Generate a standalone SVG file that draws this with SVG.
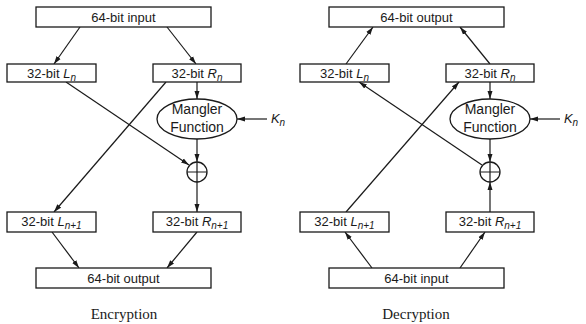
<svg xmlns="http://www.w3.org/2000/svg" width="586" height="324" viewBox="0 0 586 324">
<style>
.box{fill:#fff;stroke:#1a1a1a;stroke-width:1.3}
.ln{fill:none;stroke:#1a1a1a;stroke-width:1.2}
.t{font-family:"Liberation Sans",Arial,sans-serif;font-size:13px;fill:#1a1a1a;text-anchor:middle}
.m{font-size:14px}
.i{font-style:italic}
.cap{font-family:"Liberation Serif","Times New Roman",serif;font-size:15px;fill:#1a1a1a;text-anchor:middle}
</style>
<defs>
<marker id="ah" markerUnits="userSpaceOnUse" markerWidth="8" markerHeight="6" refX="8" refY="3" orient="auto">
<path d="M0,0.5 L8,3 L0,5.5 Z" fill="#1a1a1a"/>
</marker>
</defs>
<rect width="586" height="324" fill="#fff"/>
<g id="connectors">
<line class="ln" x1="80" y1="27" x2="54" y2="64" marker-end="url(#ah)"/>
<line class="ln" x1="167" y1="27" x2="196" y2="64" marker-end="url(#ah)"/>
<line class="ln" x1="197" y1="82" x2="197" y2="99" marker-end="url(#ah)"/>
<line class="ln" x1="267" y1="119" x2="237" y2="119" marker-end="url(#ah)"/>
<line class="ln" x1="197" y1="139" x2="197" y2="162" marker-end="url(#ah)"/>
<line class="ln" x1="66" y1="82" x2="189" y2="165" marker-end="url(#ah)"/>
<line class="ln" x1="166" y1="82" x2="54" y2="212" marker-end="url(#ah)"/>
<line class="ln" x1="197" y1="182" x2="197" y2="212" marker-end="url(#ah)"/>
<line class="ln" x1="52" y1="232" x2="79" y2="268" marker-end="url(#ah)"/>
<line class="ln" x1="197" y1="232" x2="167" y2="268" marker-end="url(#ah)"/>
<line class="ln" x1="346" y1="64" x2="373" y2="27" marker-end="url(#ah)"/>
<line class="ln" x1="490" y1="64" x2="460" y2="27" marker-end="url(#ah)"/>
<line class="ln" x1="490" y1="82" x2="490" y2="99" marker-end="url(#ah)"/>
<line class="ln" x1="560" y1="119" x2="530" y2="119" marker-end="url(#ah)"/>
<line class="ln" x1="490" y1="139" x2="490" y2="162" marker-end="url(#ah)"/>
<line class="ln" x1="482" y1="165" x2="359" y2="82" marker-end="url(#ah)"/>
<line class="ln" x1="346" y1="212" x2="459" y2="82" marker-end="url(#ah)"/>
<line class="ln" x1="490" y1="212" x2="490" y2="182" marker-end="url(#ah)"/>
<line class="ln" x1="372" y1="268" x2="345" y2="232" marker-end="url(#ah)"/>
<line class="ln" x1="460" y1="268" x2="485" y2="232" marker-end="url(#ah)"/>
</g>
<g id="enc-input"><rect class="box" x="36" y="7" width="175" height="20"/><text class="t" x="123.5" y="22">64-bit input</text></g>
<g id="enc-Ln"><rect class="box" x="7" y="64" width="89" height="18"/><text class="t" x="51.5" y="78">32-bit <tspan class="i">L</tspan><tspan class="i" font-size="10" dy="3">n</tspan></text></g>
<g id="enc-Rn"><rect class="box" x="153" y="64" width="88" height="18"/><text class="t" x="197" y="78">32-bit <tspan class="i">R</tspan><tspan class="i" font-size="10" dy="3">n</tspan></text></g>
<g id="enc-mangler"><ellipse class="box" cx="197" cy="119" rx="40" ry="20"/><text class="t m" x="197" y="114">Mangler</text><text class="t m" x="197" y="132">Function</text></g>
<g id="enc-Kn"><text class="t i" x="278" y="123" font-size="15">K<tspan font-size="10" dy="3">n</tspan></text></g>
<g id="enc-xor"><circle class="box" cx="197" cy="172" r="10"/><path class="ln" d="M187,172 H207 M197,162 V182"/></g>
<g id="enc-Ln1"><rect class="box" x="7" y="212" width="89" height="20"/><text class="t" x="51.5" y="226">32-bit <tspan class="i">L</tspan><tspan class="i" font-size="10" dy="3">n+1</tspan></text></g>
<g id="enc-Rn1"><rect class="box" x="153" y="212" width="88" height="20"/><text class="t" x="197" y="226">32-bit <tspan class="i">R</tspan><tspan class="i" font-size="10" dy="3">n+1</tspan></text></g>
<g id="enc-output"><rect class="box" x="36" y="268" width="175" height="20"/><text class="t" x="123.5" y="283">64-bit output</text></g>
<g id="enc-caption"><text class="cap" x="124" y="319">Encryption</text></g>
<g id="dec-output"><rect class="box" x="329" y="7" width="175" height="20"/><text class="t" x="416.5" y="22">64-bit output</text></g>
<g id="dec-Ln"><rect class="box" x="300" y="64" width="89" height="18"/><text class="t" x="344.5" y="78">32-bit <tspan class="i">L</tspan><tspan class="i" font-size="10" dy="3">n</tspan></text></g>
<g id="dec-Rn"><rect class="box" x="446" y="64" width="88" height="18"/><text class="t" x="490" y="78">32-bit <tspan class="i">R</tspan><tspan class="i" font-size="10" dy="3">n</tspan></text></g>
<g id="dec-mangler"><ellipse class="box" cx="490" cy="119" rx="40" ry="20"/><text class="t m" x="490" y="114">Mangler</text><text class="t m" x="490" y="132">Function</text></g>
<g id="dec-Kn"><text class="t i" x="571" y="123" font-size="15">K<tspan font-size="10" dy="3">n</tspan></text></g>
<g id="dec-xor"><circle class="box" cx="490" cy="172" r="10"/><path class="ln" d="M480,172 H500 M490,162 V182"/></g>
<g id="dec-Ln1"><rect class="box" x="300" y="212" width="89" height="20"/><text class="t" x="344.5" y="226">32-bit <tspan class="i">L</tspan><tspan class="i" font-size="10" dy="3">n+1</tspan></text></g>
<g id="dec-Rn1"><rect class="box" x="446" y="212" width="88" height="20"/><text class="t" x="490" y="226">32-bit <tspan class="i">R</tspan><tspan class="i" font-size="10" dy="3">n+1</tspan></text></g>
<g id="dec-input"><rect class="box" x="329" y="268" width="175" height="20"/><text class="t" x="416.5" y="283">64-bit input</text></g>
<g id="dec-caption"><text class="cap" x="416" y="319">Decryption</text></g>
</svg>
